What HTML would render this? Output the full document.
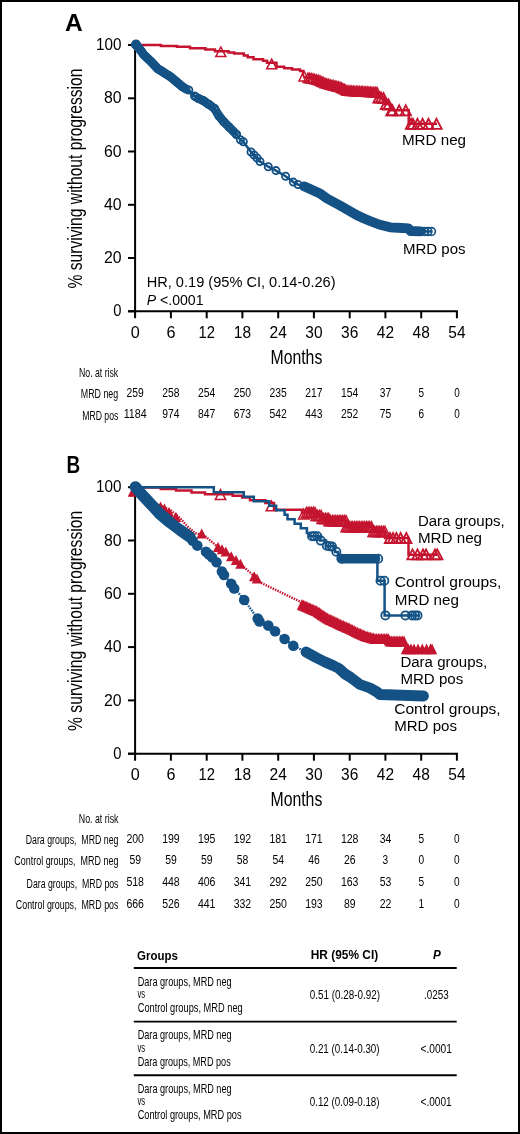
<!DOCTYPE html>
<html><head><meta charset="utf-8"><style>
html,body{margin:0;padding:0;background:#fff;}
svg{display:block;will-change:transform;}
text{font-family:"Liberation Sans", sans-serif;}
</style></head><body>
<svg width="520" height="1134" viewBox="0 0 520 1134" font-family='"Liberation Sans", sans-serif' fill="#000">
<rect x="0" y="0" width="520" height="1134" fill="#fff"/>
<text x="65.00" y="30.80" font-size="23.7" font-weight="bold" textLength="17.70" lengthAdjust="spacingAndGlyphs">A</text>
<g stroke="#000" stroke-width="2" fill="none">
<path d="M135.1,44.0 V318.3"/>
<path d="M128,311.3 H457.8"/>
<path d="M128,311.3 H135"/>
<path d="M128,258.0 H135"/>
<path d="M128,204.8 H135"/>
<path d="M128,151.5 H135"/>
<path d="M128,98.3 H135"/>
<path d="M128,45.0 H135"/>
<path d="M170.9,311.3 V318.3"/>
<path d="M206.7,311.3 V318.3"/>
<path d="M242.4,311.3 V318.3"/>
<path d="M278.2,311.3 V318.3"/>
<path d="M313.9,311.3 V318.3"/>
<path d="M349.7,311.3 V318.3"/>
<path d="M385.4,311.3 V318.3"/>
<path d="M421.2,311.3 V318.3"/>
<path d="M456.9,311.3 V318.3"/>
</g>
<text x="113.30" y="316.40" font-size="16" textLength="8.20" lengthAdjust="spacingAndGlyphs">0</text>
<text x="103.90" y="263.14" font-size="16" textLength="17.60" lengthAdjust="spacingAndGlyphs">20</text>
<text x="103.90" y="209.88" font-size="16" textLength="17.60" lengthAdjust="spacingAndGlyphs">40</text>
<text x="103.90" y="156.62" font-size="16" textLength="17.60" lengthAdjust="spacingAndGlyphs">60</text>
<text x="103.90" y="103.36" font-size="16" textLength="17.60" lengthAdjust="spacingAndGlyphs">80</text>
<text x="96.10" y="50.10" font-size="16" textLength="25.41" lengthAdjust="spacingAndGlyphs">100</text>
<text x="130.70" y="337.50" font-size="16" textLength="9.00" lengthAdjust="spacingAndGlyphs">0</text>
<text x="166.45" y="337.50" font-size="16" textLength="9.00" lengthAdjust="spacingAndGlyphs">6</text>
<text x="198.50" y="337.50" font-size="16" textLength="16.40" lengthAdjust="spacingAndGlyphs">12</text>
<text x="233.85" y="337.50" font-size="16" textLength="17.20" lengthAdjust="spacingAndGlyphs">18</text>
<text x="269.60" y="337.50" font-size="16" textLength="17.20" lengthAdjust="spacingAndGlyphs">24</text>
<text x="305.35" y="337.50" font-size="16" textLength="17.20" lengthAdjust="spacingAndGlyphs">30</text>
<text x="341.10" y="337.50" font-size="16" textLength="17.20" lengthAdjust="spacingAndGlyphs">36</text>
<text x="376.85" y="337.50" font-size="16" textLength="17.20" lengthAdjust="spacingAndGlyphs">42</text>
<text x="412.60" y="337.50" font-size="16" textLength="17.20" lengthAdjust="spacingAndGlyphs">48</text>
<text x="448.35" y="337.50" font-size="16" textLength="17.20" lengthAdjust="spacingAndGlyphs">54</text>
<text transform="translate(82.3,288.5) rotate(-90)" font-size="20" textLength="220" lengthAdjust="spacingAndGlyphs">% surviving without progression</text>
<text x="270.50" y="364.20" font-size="19.8" textLength="51.80" lengthAdjust="spacingAndGlyphs">Months</text>
<path d="M135,45.0 H161 V45.9 H177 V46.7 H190 V48.3 H205.4 V49.6 H215 V51.2 H228.5 V52.5 H234.2 V53.5 H243.8 V55.4 H247.7 V57.3 H253.5 V59.2 H263 V60.8 H267 V62.7 H276.5 V66.8 H284.2 V68.3 H292 V69.5 H300 V71 H303 V76" fill="none" stroke="#c4142f" stroke-width="2.5"/>
<path d="M303.0,77.0 L313.0,78.5 L318.5,80.0 L325.0,83.0 L332.0,85.0 L340.0,87.0 L347.0,90.5 L372.0,92.0 L377.0,92.0 L377.0,97.5 L384.0,97.5 L384.0,104.0 L390.0,104.0 L390.0,110.3 L408.7,110.3 L408.7,123.8 L437.0,123.8" fill="none" stroke="#c4142f" stroke-width="2.5"/>
<polygon points="220.8,47.0 225.8,56.6 215.8,56.6" fill="none" stroke="#c4142f" stroke-width="1.5"/><polygon points="271.7,59.2 276.7,68.8 266.7,68.8" fill="none" stroke="#c4142f" stroke-width="1.5"/><polygon points="304.0,71.0 309.0,81.0 299.0,81.0" fill="none" stroke="#c4142f" stroke-width="1.5"/><polygon points="308.0,73.1 312.8,82.5 303.2,82.5" fill="none" stroke="#c4142f" stroke-width="1.5"/><polygon points="309.7,73.3 314.5,82.7 304.9,82.7" fill="none" stroke="#c4142f" stroke-width="1.5"/><polygon points="311.3,73.6 316.1,83.0 306.5,83.0" fill="none" stroke="#c4142f" stroke-width="1.5"/><polygon points="313.0,73.8 317.8,83.2 308.2,83.2" fill="none" stroke="#c4142f" stroke-width="1.5"/><polygon points="314.8,74.3 319.6,83.7 310.0,83.7" fill="none" stroke="#c4142f" stroke-width="1.5"/><polygon points="316.7,74.8 321.5,84.2 311.9,84.2" fill="none" stroke="#c4142f" stroke-width="1.5"/><polygon points="318.5,75.3 323.3,84.7 313.7,84.7" fill="none" stroke="#c4142f" stroke-width="1.5"/><polygon points="320.1,76.0 324.9,85.5 315.3,85.5" fill="none" stroke="#c4142f" stroke-width="1.5"/><polygon points="321.8,76.8 326.6,86.2 316.9,86.2" fill="none" stroke="#c4142f" stroke-width="1.5"/><polygon points="323.4,77.5 328.2,87.0 318.6,87.0" fill="none" stroke="#c4142f" stroke-width="1.5"/><polygon points="325.0,78.3 329.8,87.7 320.2,87.7" fill="none" stroke="#c4142f" stroke-width="1.5"/><polygon points="326.8,78.8 331.6,88.2 321.9,88.2" fill="none" stroke="#c4142f" stroke-width="1.5"/><polygon points="328.5,79.3 333.3,88.7 323.7,88.7" fill="none" stroke="#c4142f" stroke-width="1.5"/><polygon points="330.2,79.8 335.1,89.2 325.4,89.2" fill="none" stroke="#c4142f" stroke-width="1.5"/><polygon points="332.0,80.3 336.8,89.7 327.2,89.7" fill="none" stroke="#c4142f" stroke-width="1.5"/><polygon points="333.6,80.7 338.4,90.1 328.8,90.1" fill="none" stroke="#c4142f" stroke-width="1.5"/><polygon points="335.2,81.1 340.0,90.5 330.4,90.5" fill="none" stroke="#c4142f" stroke-width="1.5"/><polygon points="336.8,81.5 341.6,90.9 332.0,90.9" fill="none" stroke="#c4142f" stroke-width="1.5"/><polygon points="338.4,81.9 343.2,91.3 333.6,91.3" fill="none" stroke="#c4142f" stroke-width="1.5"/><polygon points="340.0,82.3 344.8,91.7 335.2,91.7" fill="none" stroke="#c4142f" stroke-width="1.5"/><polygon points="341.4,83.0 346.2,92.4 336.6,92.4" fill="none" stroke="#c4142f" stroke-width="1.5"/><polygon points="342.8,83.7 347.6,93.1 338.0,93.1" fill="none" stroke="#c4142f" stroke-width="1.5"/><polygon points="344.2,84.4 349.0,93.8 339.4,93.8" fill="none" stroke="#c4142f" stroke-width="1.5"/><polygon points="345.6,85.1 350.4,94.5 340.8,94.5" fill="none" stroke="#c4142f" stroke-width="1.5"/><polygon points="347.0,85.8 351.8,95.2 342.2,95.2" fill="none" stroke="#c4142f" stroke-width="1.5"/><polygon points="348.6,85.9 353.4,95.3 343.8,95.3" fill="none" stroke="#c4142f" stroke-width="1.5"/><polygon points="350.1,86.0 354.9,95.4 345.3,95.4" fill="none" stroke="#c4142f" stroke-width="1.5"/><polygon points="351.7,86.1 356.5,95.5 346.9,95.5" fill="none" stroke="#c4142f" stroke-width="1.5"/><polygon points="353.2,86.2 358.1,95.6 348.4,95.6" fill="none" stroke="#c4142f" stroke-width="1.5"/><polygon points="354.8,86.3 359.6,95.7 350.0,95.7" fill="none" stroke="#c4142f" stroke-width="1.5"/><polygon points="356.4,86.4 361.2,95.8 351.6,95.8" fill="none" stroke="#c4142f" stroke-width="1.5"/><polygon points="357.9,86.5 362.7,95.9 353.1,95.9" fill="none" stroke="#c4142f" stroke-width="1.5"/><polygon points="359.5,86.5 364.3,96.0 354.7,96.0" fill="none" stroke="#c4142f" stroke-width="1.5"/><polygon points="361.1,86.6 365.9,96.0 356.3,96.0" fill="none" stroke="#c4142f" stroke-width="1.5"/><polygon points="362.6,86.7 367.4,96.1 357.8,96.1" fill="none" stroke="#c4142f" stroke-width="1.5"/><polygon points="364.2,86.8 369.0,96.2 359.4,96.2" fill="none" stroke="#c4142f" stroke-width="1.5"/><polygon points="365.8,86.9 370.6,96.3 360.9,96.3" fill="none" stroke="#c4142f" stroke-width="1.5"/><polygon points="367.3,87.0 372.1,96.4 362.5,96.4" fill="none" stroke="#c4142f" stroke-width="1.5"/><polygon points="368.9,87.1 373.7,96.5 364.1,96.5" fill="none" stroke="#c4142f" stroke-width="1.5"/><polygon points="370.4,87.2 375.2,96.6 365.6,96.6" fill="none" stroke="#c4142f" stroke-width="1.5"/><polygon points="372.0,87.3 376.8,96.7 367.2,96.7" fill="none" stroke="#c4142f" stroke-width="1.5"/><polygon points="373.7,87.3 378.5,96.7 368.9,96.7" fill="none" stroke="#c4142f" stroke-width="1.5"/><polygon points="375.3,87.3 380.1,96.7 370.5,96.7" fill="none" stroke="#c4142f" stroke-width="1.5"/><polygon points="377.0,87.3 381.8,96.7 372.2,96.7" fill="none" stroke="#c4142f" stroke-width="1.5"/><polygon points="378.5,92.5 383.7,102.5 373.3,102.5" fill="none" stroke="#c4142f" stroke-width="1.8"/><polygon points="381.0,92.5 386.2,102.5 375.8,102.5" fill="none" stroke="#c4142f" stroke-width="1.8"/><polygon points="383.5,93.0 388.7,103.0 378.3,103.0" fill="none" stroke="#c4142f" stroke-width="1.8"/><polygon points="386.0,99.0 391.2,109.0 380.8,109.0" fill="none" stroke="#c4142f" stroke-width="1.8"/><polygon points="388.5,99.5 393.7,109.5 383.3,109.5" fill="none" stroke="#c4142f" stroke-width="1.8"/><polygon points="391.5,105.3 396.7,115.3 386.3,115.3" fill="none" stroke="#c4142f" stroke-width="1.8"/><polygon points="392.5,105.3 397.7,115.3 387.3,115.3" fill="none" stroke="#c4142f" stroke-width="1.8"/><polygon points="399.2,105.3 404.4,115.3 394.0,115.3" fill="none" stroke="#c4142f" stroke-width="1.8"/><polygon points="405.8,105.3 411.0,115.3 400.6,115.3" fill="none" stroke="#c4142f" stroke-width="1.8"/><polygon points="411.0,118.8 416.2,128.8 405.8,128.8" fill="none" stroke="#c4142f" stroke-width="1.8"/><polygon points="413.0,118.8 418.2,128.8 407.8,128.8" fill="none" stroke="#c4142f" stroke-width="1.8"/><polygon points="417.5,118.8 422.7,128.8 412.3,128.8" fill="none" stroke="#c4142f" stroke-width="1.8"/><polygon points="422.6,118.8 427.8,128.8 417.4,128.8" fill="none" stroke="#c4142f" stroke-width="1.8"/><polygon points="428.5,118.8 433.7,128.8 423.3,128.8" fill="none" stroke="#c4142f" stroke-width="1.8"/><polygon points="436.5,118.8 441.7,128.8 431.3,128.8" fill="none" stroke="#c4142f" stroke-width="1.8"/>
<path d="M136.0,44.6 L140.0,49.5 L144.0,55.0 L151.0,61.5 L157.5,68.5 L170.4,76.7 L182.5,86.8 L186.0,89.0 L188.8,90.0 L194.5,96.0 L198.5,98.5 L203.0,100.5 L209.0,104.5 L214.5,108.5 L219.0,116.0 L224.0,122.0 L229.0,127.0 L236.5,134.5 L240.4,139.8 L243.3,141.7 L251.0,152.0 L254.0,155.0 L257.0,158.0 L260.0,161.5 L268.3,166.7 L276.0,170.6 L285.6,176.3 L293.3,182.1 L298.0,184.5 L304.0,186.3 L320.0,193.5 L327.0,198.5 L340.0,205.5 L356.5,215.0 L364.0,218.5 L370.0,221.0 L379.0,224.5 L390.0,227.3 L402.0,228.0 L408.5,228.3 L410.5,231.0 L421.0,231.3 L431.5,231.5" fill="none" stroke="#145285" stroke-width="2.5"/>
<path d="M136.0,44.6 L140.0,49.5 L144.0,55.0 L151.0,61.5 L157.5,68.5 L170.4,76.7 L182.5,86.8" fill="none" stroke="#145285" stroke-width="8.8" stroke-linecap="round" stroke-linejoin="round"/>
<path d="M304.0,186.3 L320.0,193.5 L327.0,198.5 L340.0,205.5 L356.5,215.0 L364.0,218.5 L370.0,221.0 L379.0,224.5 L390.0,227.3 L402.0,228.0 L408.5,228.3 L410.5,231.0 L421.0,231.3" fill="none" stroke="#145285" stroke-width="9.8" stroke-linecap="round" stroke-linejoin="round"/>
<path d="M186.0,89.0 L194.5,96.0 L198.5,98.5 L203.0,100.5 L209.0,104.5 L214.5,108.5 L219.0,116.0 L224.0,122.0 L229.0,127.0 L236.5,134.5" fill="none" stroke="#145285" stroke-width="3" stroke-linejoin="round"/>
<circle cx="136.0" cy="44.6" r="4.2" fill="none" stroke="#145285" stroke-width="1.7"/><circle cx="136.0" cy="44.6" r="3.6" fill="none" stroke="#145285" stroke-width="1.8"/><circle cx="137.3" cy="46.2" r="3.6" fill="none" stroke="#145285" stroke-width="1.8"/><circle cx="138.7" cy="47.9" r="3.6" fill="none" stroke="#145285" stroke-width="1.8"/><circle cx="140.0" cy="49.5" r="3.6" fill="none" stroke="#145285" stroke-width="1.8"/><circle cx="141.3" cy="51.3" r="3.6" fill="none" stroke="#145285" stroke-width="1.8"/><circle cx="142.7" cy="53.2" r="3.6" fill="none" stroke="#145285" stroke-width="1.8"/><circle cx="144.0" cy="55.0" r="3.6" fill="none" stroke="#145285" stroke-width="1.8"/><circle cx="145.8" cy="56.6" r="3.6" fill="none" stroke="#145285" stroke-width="1.8"/><circle cx="147.5" cy="58.2" r="3.6" fill="none" stroke="#145285" stroke-width="1.8"/><circle cx="149.2" cy="59.9" r="3.6" fill="none" stroke="#145285" stroke-width="1.8"/><circle cx="151.0" cy="61.5" r="3.6" fill="none" stroke="#145285" stroke-width="1.8"/><circle cx="152.6" cy="63.2" r="3.6" fill="none" stroke="#145285" stroke-width="1.8"/><circle cx="154.2" cy="65.0" r="3.6" fill="none" stroke="#145285" stroke-width="1.8"/><circle cx="155.9" cy="66.8" r="3.6" fill="none" stroke="#145285" stroke-width="1.8"/><circle cx="157.5" cy="68.5" r="3.6" fill="none" stroke="#145285" stroke-width="1.8"/><circle cx="159.3" cy="69.7" r="3.6" fill="none" stroke="#145285" stroke-width="1.8"/><circle cx="161.2" cy="70.8" r="3.6" fill="none" stroke="#145285" stroke-width="1.8"/><circle cx="163.0" cy="72.0" r="3.6" fill="none" stroke="#145285" stroke-width="1.8"/><circle cx="164.9" cy="73.2" r="3.6" fill="none" stroke="#145285" stroke-width="1.8"/><circle cx="166.7" cy="74.4" r="3.6" fill="none" stroke="#145285" stroke-width="1.8"/><circle cx="168.6" cy="75.5" r="3.6" fill="none" stroke="#145285" stroke-width="1.8"/><circle cx="170.4" cy="76.7" r="3.6" fill="none" stroke="#145285" stroke-width="1.8"/><circle cx="172.1" cy="78.1" r="3.6" fill="none" stroke="#145285" stroke-width="1.8"/><circle cx="173.9" cy="79.6" r="3.6" fill="none" stroke="#145285" stroke-width="1.8"/><circle cx="175.6" cy="81.0" r="3.6" fill="none" stroke="#145285" stroke-width="1.8"/><circle cx="177.3" cy="82.5" r="3.6" fill="none" stroke="#145285" stroke-width="1.8"/><circle cx="179.0" cy="83.9" r="3.6" fill="none" stroke="#145285" stroke-width="1.8"/><circle cx="180.8" cy="85.4" r="3.6" fill="none" stroke="#145285" stroke-width="1.8"/><circle cx="182.5" cy="86.8" r="3.6" fill="none" stroke="#145285" stroke-width="1.8"/><circle cx="184.2" cy="87.9" r="3.6" fill="none" stroke="#145285" stroke-width="1.8"/><circle cx="186.0" cy="89.0" r="3.6" fill="none" stroke="#145285" stroke-width="1.8"/><circle cx="188.8" cy="90.0" r="3.6" fill="none" stroke="#145285" stroke-width="1.8"/><circle cx="194.5" cy="96.0" r="3.6" fill="none" stroke="#145285" stroke-width="1.8"/><circle cx="198.5" cy="98.5" r="3.6" fill="none" stroke="#145285" stroke-width="1.8"/><circle cx="203.0" cy="100.5" r="3.6" fill="none" stroke="#145285" stroke-width="1.8"/><circle cx="209.0" cy="104.5" r="3.6" fill="none" stroke="#145285" stroke-width="1.8"/><circle cx="214.5" cy="108.5" r="3.6" fill="none" stroke="#145285" stroke-width="1.8"/><circle cx="219.0" cy="116.0" r="3.6" fill="none" stroke="#145285" stroke-width="1.8"/><circle cx="224.0" cy="122.0" r="3.6" fill="none" stroke="#145285" stroke-width="1.8"/><circle cx="229.0" cy="127.0" r="3.6" fill="none" stroke="#145285" stroke-width="1.8"/><circle cx="236.5" cy="134.5" r="3.6" fill="none" stroke="#145285" stroke-width="1.8"/><circle cx="240.4" cy="139.8" r="3.6" fill="none" stroke="#145285" stroke-width="1.8"/><circle cx="243.3" cy="141.7" r="3.6" fill="none" stroke="#145285" stroke-width="1.8"/><circle cx="251.0" cy="152.0" r="3.6" fill="none" stroke="#145285" stroke-width="1.8"/><circle cx="254.0" cy="155.0" r="3.6" fill="none" stroke="#145285" stroke-width="1.8"/><circle cx="257.0" cy="158.0" r="3.6" fill="none" stroke="#145285" stroke-width="1.8"/><circle cx="260.0" cy="161.5" r="3.6" fill="none" stroke="#145285" stroke-width="1.8"/><circle cx="268.3" cy="166.7" r="3.6" fill="none" stroke="#145285" stroke-width="1.8"/><circle cx="276.0" cy="170.6" r="3.6" fill="none" stroke="#145285" stroke-width="1.8"/><circle cx="285.6" cy="176.3" r="3.6" fill="none" stroke="#145285" stroke-width="1.8"/><circle cx="293.3" cy="182.1" r="3.6" fill="none" stroke="#145285" stroke-width="1.8"/><circle cx="298.0" cy="184.5" r="3.6" fill="none" stroke="#145285" stroke-width="1.8"/><circle cx="196.0" cy="97.0" r="3.6" fill="none" stroke="#145285" stroke-width="1.8"/><circle cx="198.5" cy="98.5" r="3.6" fill="none" stroke="#145285" stroke-width="1.8"/><circle cx="200.8" cy="99.5" r="3.6" fill="none" stroke="#145285" stroke-width="1.8"/><circle cx="203.0" cy="100.5" r="3.6" fill="none" stroke="#145285" stroke-width="1.8"/><circle cx="205.0" cy="101.8" r="3.6" fill="none" stroke="#145285" stroke-width="1.8"/><circle cx="207.0" cy="103.2" r="3.6" fill="none" stroke="#145285" stroke-width="1.8"/><circle cx="209.0" cy="104.5" r="3.6" fill="none" stroke="#145285" stroke-width="1.8"/><circle cx="211.8" cy="106.5" r="3.6" fill="none" stroke="#145285" stroke-width="1.8"/><circle cx="214.5" cy="108.5" r="3.6" fill="none" stroke="#145285" stroke-width="1.8"/><circle cx="216.0" cy="111.0" r="3.6" fill="none" stroke="#145285" stroke-width="1.8"/><circle cx="217.5" cy="113.5" r="3.6" fill="none" stroke="#145285" stroke-width="1.8"/><circle cx="219.0" cy="116.0" r="3.6" fill="none" stroke="#145285" stroke-width="1.8"/><circle cx="220.7" cy="118.0" r="3.6" fill="none" stroke="#145285" stroke-width="1.8"/><circle cx="222.3" cy="120.0" r="3.6" fill="none" stroke="#145285" stroke-width="1.8"/><circle cx="224.0" cy="122.0" r="3.6" fill="none" stroke="#145285" stroke-width="1.8"/><circle cx="226.5" cy="124.5" r="3.6" fill="none" stroke="#145285" stroke-width="1.8"/><circle cx="229.0" cy="127.0" r="3.6" fill="none" stroke="#145285" stroke-width="1.8"/><circle cx="230.9" cy="128.9" r="3.6" fill="none" stroke="#145285" stroke-width="1.8"/><circle cx="232.8" cy="130.8" r="3.6" fill="none" stroke="#145285" stroke-width="1.8"/><circle cx="234.6" cy="132.6" r="3.6" fill="none" stroke="#145285" stroke-width="1.8"/><circle cx="236.5" cy="134.5" r="3.6" fill="none" stroke="#145285" stroke-width="1.8"/><circle cx="424.5" cy="231.5" r="3.9" fill="none" stroke="#145285" stroke-width="1.6"/><circle cx="428.0" cy="231.5" r="3.9" fill="none" stroke="#145285" stroke-width="1.6"/><circle cx="431.5" cy="231.5" r="3.9" fill="none" stroke="#145285" stroke-width="1.6"/>
<text x="146.70" y="286.70" font-size="14" textLength="188.90" lengthAdjust="spacingAndGlyphs">HR, 0.19 (95% CI, 0.14-0.26)</text>
<text x="146.70" y="305.00" font-size="14" textLength="56.80" lengthAdjust="spacingAndGlyphs"><tspan font-style="italic">P</tspan> &lt;.0001</text>
<text x="401.90" y="145.40" font-size="14" textLength="64.19" lengthAdjust="spacingAndGlyphs">MRD neg</text>
<text x="403.00" y="253.80" font-size="14" textLength="62.59" lengthAdjust="spacingAndGlyphs">MRD pos</text>
<text x="79.00" y="376.70" font-size="12" textLength="39.18" lengthAdjust="spacingAndGlyphs">No. at risk</text>
<text x="80.80" y="398.20" font-size="12" textLength="37.40" lengthAdjust="spacingAndGlyphs">MRD neg</text>
<text x="82.20" y="419.70" font-size="12" textLength="36.10" lengthAdjust="spacingAndGlyphs">MRD pos</text>
<text x="126.57" y="396.60" font-size="12.4" textLength="17.25" lengthAdjust="spacingAndGlyphs">259</text>
<text x="162.32" y="396.60" font-size="12.4" textLength="17.25" lengthAdjust="spacingAndGlyphs">258</text>
<text x="198.07" y="396.60" font-size="12.4" textLength="17.25" lengthAdjust="spacingAndGlyphs">254</text>
<text x="233.82" y="396.60" font-size="12.4" textLength="17.25" lengthAdjust="spacingAndGlyphs">250</text>
<text x="269.57" y="396.60" font-size="12.4" textLength="17.25" lengthAdjust="spacingAndGlyphs">235</text>
<text x="305.32" y="396.60" font-size="12.4" textLength="17.25" lengthAdjust="spacingAndGlyphs">217</text>
<text x="341.07" y="396.60" font-size="12.4" textLength="17.25" lengthAdjust="spacingAndGlyphs">154</text>
<text x="379.75" y="396.60" font-size="12.4" textLength="11.40" lengthAdjust="spacingAndGlyphs">37</text>
<text x="418.43" y="396.60" font-size="12.4" textLength="5.55" lengthAdjust="spacingAndGlyphs">5</text>
<text x="454.18" y="396.60" font-size="12.4" textLength="5.55" lengthAdjust="spacingAndGlyphs">0</text>
<text x="123.65" y="418.30" font-size="12.4" textLength="23.10" lengthAdjust="spacingAndGlyphs">1184</text>
<text x="162.32" y="418.30" font-size="12.4" textLength="17.25" lengthAdjust="spacingAndGlyphs">974</text>
<text x="198.07" y="418.30" font-size="12.4" textLength="17.25" lengthAdjust="spacingAndGlyphs">847</text>
<text x="233.82" y="418.30" font-size="12.4" textLength="17.25" lengthAdjust="spacingAndGlyphs">673</text>
<text x="269.57" y="418.30" font-size="12.4" textLength="17.25" lengthAdjust="spacingAndGlyphs">542</text>
<text x="305.32" y="418.30" font-size="12.4" textLength="17.25" lengthAdjust="spacingAndGlyphs">443</text>
<text x="341.07" y="418.30" font-size="12.4" textLength="17.25" lengthAdjust="spacingAndGlyphs">252</text>
<text x="379.75" y="418.30" font-size="12.4" textLength="11.40" lengthAdjust="spacingAndGlyphs">75</text>
<text x="418.43" y="418.30" font-size="12.4" textLength="5.55" lengthAdjust="spacingAndGlyphs">6</text>
<text x="454.18" y="418.30" font-size="12.4" textLength="5.55" lengthAdjust="spacingAndGlyphs">0</text>
<text x="66.50" y="473.10" font-size="23.7" font-weight="bold" textLength="13.70" lengthAdjust="spacingAndGlyphs">B</text>
<g stroke="#000" stroke-width="2" fill="none">
<path d="M135.1,486.2 V760.7"/>
<path d="M128,753.7 H457.8"/>
<path d="M128,753.7 H135"/>
<path d="M128,700.4 H135"/>
<path d="M128,647.1 H135"/>
<path d="M128,593.8 H135"/>
<path d="M128,540.5 H135"/>
<path d="M128,487.2 H135"/>
<path d="M170.9,753.7 V760.7"/>
<path d="M206.7,753.7 V760.7"/>
<path d="M242.4,753.7 V760.7"/>
<path d="M278.2,753.7 V760.7"/>
<path d="M313.9,753.7 V760.7"/>
<path d="M349.7,753.7 V760.7"/>
<path d="M385.4,753.7 V760.7"/>
<path d="M421.2,753.7 V760.7"/>
<path d="M456.9,753.7 V760.7"/>
</g>
<text x="113.30" y="758.80" font-size="16" textLength="8.20" lengthAdjust="spacingAndGlyphs">0</text>
<text x="103.90" y="705.50" font-size="16" textLength="17.60" lengthAdjust="spacingAndGlyphs">20</text>
<text x="103.90" y="652.20" font-size="16" textLength="17.60" lengthAdjust="spacingAndGlyphs">40</text>
<text x="103.90" y="598.90" font-size="16" textLength="17.60" lengthAdjust="spacingAndGlyphs">60</text>
<text x="103.90" y="545.60" font-size="16" textLength="17.60" lengthAdjust="spacingAndGlyphs">80</text>
<text x="96.10" y="492.30" font-size="16" textLength="25.41" lengthAdjust="spacingAndGlyphs">100</text>
<text x="130.70" y="779.90" font-size="16" textLength="9.00" lengthAdjust="spacingAndGlyphs">0</text>
<text x="166.45" y="779.90" font-size="16" textLength="9.00" lengthAdjust="spacingAndGlyphs">6</text>
<text x="198.50" y="779.90" font-size="16" textLength="16.40" lengthAdjust="spacingAndGlyphs">12</text>
<text x="233.85" y="779.90" font-size="16" textLength="17.20" lengthAdjust="spacingAndGlyphs">18</text>
<text x="269.60" y="779.90" font-size="16" textLength="17.20" lengthAdjust="spacingAndGlyphs">24</text>
<text x="305.35" y="779.90" font-size="16" textLength="17.20" lengthAdjust="spacingAndGlyphs">30</text>
<text x="341.10" y="779.90" font-size="16" textLength="17.20" lengthAdjust="spacingAndGlyphs">36</text>
<text x="376.85" y="779.90" font-size="16" textLength="17.20" lengthAdjust="spacingAndGlyphs">42</text>
<text x="412.60" y="779.90" font-size="16" textLength="17.20" lengthAdjust="spacingAndGlyphs">48</text>
<text x="448.35" y="779.90" font-size="16" textLength="17.20" lengthAdjust="spacingAndGlyphs">54</text>
<text transform="translate(82.3,730.9) rotate(-90)" font-size="20" textLength="220" lengthAdjust="spacingAndGlyphs">% surviving without progression</text>
<text x="270.50" y="806.20" font-size="19.8" textLength="51.80" lengthAdjust="spacingAndGlyphs">Months</text>
<path d="M135.0,487.6 L160.8,487.6 L160.8,489.0 L176.0,489.0 L176.0,490.6 L191.5,490.6 L191.5,492.6 L205.0,492.6 L205.0,494.2 L232.7,494.2 L232.7,495.8 L242.3,495.8 L242.3,497.5 L250.0,497.5 L250.0,500.2 L265.4,500.2 L265.4,503.0 L274.0,503.0 L274.0,509.8 L302.0,509.8 L302,512.5 L302.0,512.5 L316.0,512.5 L316.0,515.5 L322.0,515.5 L322.0,518.5 L329.0,518.5 L329.0,520.7 L346.0,520.7 L346.0,526.8 L373.0,526.8 L373.0,531.4 L385.0,531.4 L385.0,538.0 L408.5,538.0 L408.5,554.7 L437.0,554.7" fill="none" stroke="#c4142f" stroke-width="2.5"/>
<polygon points="220.5,489.6 225.7,499.6 215.3,499.6" fill="none" stroke="#c4142f" stroke-width="1.5"/><polygon points="271.4,500.8 276.6,510.8 266.2,510.8" fill="none" stroke="#c4142f" stroke-width="1.5"/><polygon points="303.8,509.0 309.0,519.0 298.6,519.0" fill="none" stroke="#c4142f" stroke-width="1.5"/><polygon points="306.5,507.5 311.5,517.5 301.5,517.5" fill="none" stroke="#c4142f" stroke-width="1.5"/><polygon points="308.2,507.5 313.2,517.5 303.2,517.5" fill="none" stroke="#c4142f" stroke-width="1.5"/><polygon points="309.9,507.5 314.9,517.5 304.9,517.5" fill="none" stroke="#c4142f" stroke-width="1.5"/><polygon points="311.6,507.5 316.6,517.5 306.6,517.5" fill="none" stroke="#c4142f" stroke-width="1.5"/><polygon points="313.3,507.5 318.3,517.5 308.3,517.5" fill="none" stroke="#c4142f" stroke-width="1.5"/><polygon points="315.0,507.5 320.0,517.5 310.0,517.5" fill="none" stroke="#c4142f" stroke-width="1.5"/><polygon points="316.0,510.5 321.0,520.5 311.0,520.5" fill="none" stroke="#c4142f" stroke-width="1.5"/><polygon points="317.7,510.5 322.7,520.5 312.7,520.5" fill="none" stroke="#c4142f" stroke-width="1.5"/><polygon points="319.4,510.5 324.4,520.5 314.4,520.5" fill="none" stroke="#c4142f" stroke-width="1.5"/><polygon points="321.1,510.5 326.1,520.5 316.1,520.5" fill="none" stroke="#c4142f" stroke-width="1.5"/><polygon points="322.0,513.5 327.0,523.5 317.0,523.5" fill="none" stroke="#c4142f" stroke-width="1.5"/><polygon points="323.7,513.5 328.7,523.5 318.7,523.5" fill="none" stroke="#c4142f" stroke-width="1.5"/><polygon points="325.4,513.5 330.4,523.5 320.4,523.5" fill="none" stroke="#c4142f" stroke-width="1.5"/><polygon points="327.1,513.5 332.1,523.5 322.1,523.5" fill="none" stroke="#c4142f" stroke-width="1.5"/><polygon points="328.8,513.5 333.8,523.5 323.8,523.5" fill="none" stroke="#c4142f" stroke-width="1.5"/><polygon points="329.0,515.7 334.0,525.7 324.0,525.7" fill="none" stroke="#c4142f" stroke-width="1.5"/><polygon points="330.7,515.7 335.7,525.7 325.7,525.7" fill="none" stroke="#c4142f" stroke-width="1.5"/><polygon points="332.4,515.7 337.4,525.7 327.4,525.7" fill="none" stroke="#c4142f" stroke-width="1.5"/><polygon points="334.1,515.7 339.1,525.7 329.1,525.7" fill="none" stroke="#c4142f" stroke-width="1.5"/><polygon points="335.8,515.7 340.8,525.7 330.8,525.7" fill="none" stroke="#c4142f" stroke-width="1.5"/><polygon points="337.5,515.7 342.5,525.7 332.5,525.7" fill="none" stroke="#c4142f" stroke-width="1.5"/><polygon points="339.2,515.7 344.2,525.7 334.2,525.7" fill="none" stroke="#c4142f" stroke-width="1.5"/><polygon points="340.9,515.7 345.9,525.7 335.9,525.7" fill="none" stroke="#c4142f" stroke-width="1.5"/><polygon points="342.6,515.7 347.6,525.7 337.6,525.7" fill="none" stroke="#c4142f" stroke-width="1.5"/><polygon points="344.3,515.7 349.3,525.7 339.3,525.7" fill="none" stroke="#c4142f" stroke-width="1.5"/><polygon points="346.0,515.7 351.0,525.7 341.0,525.7" fill="none" stroke="#c4142f" stroke-width="1.5"/><polygon points="346.0,521.8 351.0,531.8 341.0,531.8" fill="none" stroke="#c4142f" stroke-width="1.5"/><polygon points="347.7,521.8 352.7,531.8 342.7,531.8" fill="none" stroke="#c4142f" stroke-width="1.5"/><polygon points="349.4,521.8 354.4,531.8 344.4,531.8" fill="none" stroke="#c4142f" stroke-width="1.5"/><polygon points="351.1,521.8 356.1,531.8 346.1,531.8" fill="none" stroke="#c4142f" stroke-width="1.5"/><polygon points="352.8,521.8 357.8,531.8 347.8,531.8" fill="none" stroke="#c4142f" stroke-width="1.5"/><polygon points="354.5,521.8 359.5,531.8 349.5,531.8" fill="none" stroke="#c4142f" stroke-width="1.5"/><polygon points="356.2,521.8 361.2,531.8 351.2,531.8" fill="none" stroke="#c4142f" stroke-width="1.5"/><polygon points="357.9,521.8 362.9,531.8 352.9,531.8" fill="none" stroke="#c4142f" stroke-width="1.5"/><polygon points="359.6,521.8 364.6,531.8 354.6,531.8" fill="none" stroke="#c4142f" stroke-width="1.5"/><polygon points="361.3,521.8 366.3,531.8 356.3,531.8" fill="none" stroke="#c4142f" stroke-width="1.5"/><polygon points="363.0,521.8 368.0,531.8 358.0,531.8" fill="none" stroke="#c4142f" stroke-width="1.5"/><polygon points="364.7,521.8 369.7,531.8 359.7,531.8" fill="none" stroke="#c4142f" stroke-width="1.5"/><polygon points="366.4,521.8 371.4,531.8 361.4,531.8" fill="none" stroke="#c4142f" stroke-width="1.5"/><polygon points="368.1,521.8 373.1,531.8 363.1,531.8" fill="none" stroke="#c4142f" stroke-width="1.5"/><polygon points="369.8,521.8 374.8,531.8 364.8,531.8" fill="none" stroke="#c4142f" stroke-width="1.5"/><polygon points="371.5,521.8 376.5,531.8 366.5,531.8" fill="none" stroke="#c4142f" stroke-width="1.5"/><polygon points="373.0,526.4 378.0,536.4 368.0,536.4" fill="none" stroke="#c4142f" stroke-width="1.5"/><polygon points="374.7,526.4 379.7,536.4 369.7,536.4" fill="none" stroke="#c4142f" stroke-width="1.5"/><polygon points="376.4,526.4 381.4,536.4 371.4,536.4" fill="none" stroke="#c4142f" stroke-width="1.5"/><polygon points="378.1,526.4 383.1,536.4 373.1,536.4" fill="none" stroke="#c4142f" stroke-width="1.5"/><polygon points="379.8,526.4 384.8,536.4 374.8,536.4" fill="none" stroke="#c4142f" stroke-width="1.5"/><polygon points="381.5,526.4 386.5,536.4 376.5,536.4" fill="none" stroke="#c4142f" stroke-width="1.5"/><polygon points="383.2,526.4 388.2,536.4 378.2,536.4" fill="none" stroke="#c4142f" stroke-width="1.5"/><polygon points="384.9,526.4 389.9,536.4 379.9,536.4" fill="none" stroke="#c4142f" stroke-width="1.5"/><polygon points="390.0,533.0 395.2,543.0 384.8,543.0" fill="none" stroke="#c4142f" stroke-width="1.8"/><polygon points="393.0,533.0 398.2,543.0 387.8,543.0" fill="none" stroke="#c4142f" stroke-width="1.8"/><polygon points="396.3,533.0 401.5,543.0 391.1,543.0" fill="none" stroke="#c4142f" stroke-width="1.8"/><polygon points="400.6,533.0 405.8,543.0 395.4,543.0" fill="none" stroke="#c4142f" stroke-width="1.8"/><polygon points="406.3,533.0 411.5,543.0 401.1,543.0" fill="none" stroke="#c4142f" stroke-width="1.8"/><polygon points="412.5,549.4 417.7,559.4 407.3,559.4" fill="none" stroke="#c4142f" stroke-width="1.8"/><polygon points="417.5,549.4 422.7,559.4 412.3,559.4" fill="none" stroke="#c4142f" stroke-width="1.8"/><polygon points="423.0,549.4 428.2,559.4 417.8,559.4" fill="none" stroke="#c4142f" stroke-width="1.8"/><polygon points="426.0,549.4 431.2,559.4 420.8,559.4" fill="none" stroke="#c4142f" stroke-width="1.8"/><polygon points="435.0,549.4 440.2,559.4 429.8,559.4" fill="none" stroke="#c4142f" stroke-width="1.8"/><polygon points="437.3,549.4 442.5,559.4 432.1,559.4" fill="none" stroke="#c4142f" stroke-width="1.8"/>
<path d="M135.0,487.3 L213.8,487.3 L213.8,492.2 L243.8,492.2 L243.8,496.8 L253.8,496.8 L253.8,501.3 L269.2,501.3 L269.2,505.8 L276.2,505.8 L276.2,510.3 L284.6,510.3 L284.6,514.8 L287.5,514.8 L287.5,519.3 L294.6,519.3 L294.6,523.8 L300.8,523.8 L300.8,528.3 L306.9,528.3 L306.9,533.0 L309.0,533.0 L309.0,536.2 L320.0,536.2 L320.0,540.6 L326.0,540.6 L326.0,546.2 L335.0,546.2 L335.0,552.0 L338.0,552.0 L338.0,558.7 L377.4,558.7 L377.4,580.8 L384.6,580.8 L384.6,615.4 L420.0,615.4" fill="none" stroke="#145285" stroke-width="2.5"/>
<path d="M342,558.7 H375.5" fill="none" stroke="#145285" stroke-width="9.6" stroke-linecap="round"/>
<circle cx="312.1" cy="536.2" r="4.1" fill="none" stroke="#145285" stroke-width="1.8"/><circle cx="314.5" cy="536.2" r="4.1" fill="none" stroke="#145285" stroke-width="1.8"/><circle cx="317.3" cy="536.2" r="4.1" fill="none" stroke="#145285" stroke-width="1.8"/><circle cx="320.8" cy="540.6" r="4.1" fill="none" stroke="#145285" stroke-width="1.8"/><circle cx="326.8" cy="545.8" r="4.1" fill="none" stroke="#145285" stroke-width="1.8"/><circle cx="329.5" cy="546.2" r="4.1" fill="none" stroke="#145285" stroke-width="1.8"/><circle cx="332.0" cy="546.6" r="4.1" fill="none" stroke="#145285" stroke-width="1.8"/><circle cx="336.3" cy="551.8" r="4.1" fill="none" stroke="#145285" stroke-width="1.8"/><circle cx="341.5" cy="558.7" r="4.1" fill="none" stroke="#145285" stroke-width="1.8"/><circle cx="378.2" cy="558.7" r="4.1" fill="none" stroke="#145285" stroke-width="1.8"/><circle cx="380.5" cy="580.8" r="4.1" fill="none" stroke="#145285" stroke-width="1.8"/><circle cx="384.3" cy="580.8" r="4.1" fill="none" stroke="#145285" stroke-width="1.8"/><circle cx="385.4" cy="615.4" r="4.1" fill="none" stroke="#145285" stroke-width="1.8"/><circle cx="405.4" cy="615.4" r="4.1" fill="none" stroke="#145285" stroke-width="1.8"/><circle cx="412.0" cy="615.4" r="4.1" fill="none" stroke="#145285" stroke-width="1.8"/><circle cx="415.0" cy="615.4" r="4.1" fill="none" stroke="#145285" stroke-width="1.8"/><circle cx="417.5" cy="615.4" r="4.1" fill="none" stroke="#145285" stroke-width="1.8"/>
<path d="M135.0,489.0 L145.0,497.0 L155.0,503.0 L163.0,507.0 L171.0,510.5 L180.0,518.0 L187.0,526.0 L195.0,533.0 L205.0,536.0 L212.0,542.0 L218.0,547.0 L231.0,556.0 L240.0,563.8 L254.0,576.0 L260.0,582.3 L280.0,592.0 L300.0,601.5 L302.0,604.6" fill="none" stroke="#c4142f" stroke-width="2.4" stroke-dasharray="1.5 1.1"/>
<polygon points="131.5,489.2 135.3,496.8 127.7,496.8" fill="#c4142f"/><polygon points="135.5,486.5 140.7,496.5 130.3,496.5" fill="#c4142f"/><polygon points="160.5,501.5 165.7,511.5 155.3,511.5" fill="#c4142f"/><polygon points="164.4,503.5 169.6,513.5 159.2,513.5" fill="#c4142f"/><polygon points="169.0,507.0 174.2,517.0 163.8,517.0" fill="#c4142f"/><polygon points="176.0,512.0 181.2,522.0 170.8,522.0" fill="#c4142f"/><polygon points="201.7,528.5 206.9,538.5 196.5,538.5" fill="#c4142f"/><polygon points="218.1,541.9 223.3,551.9 212.9,551.9" fill="#c4142f"/><polygon points="222.0,544.2 227.2,554.2 216.8,554.2" fill="#c4142f"/><polygon points="225.8,546.5 231.0,556.5 220.6,556.5" fill="#c4142f"/><polygon points="231.2,551.2 236.4,561.2 226.0,561.2" fill="#c4142f"/><polygon points="236.0,555.0 241.2,565.0 230.8,565.0" fill="#c4142f"/><polygon points="240.4,558.8 245.6,568.8 235.2,568.8" fill="#c4142f"/><polygon points="254.2,571.2 259.4,581.2 249.0,581.2" fill="#c4142f"/><polygon points="257.0,573.5 262.2,583.5 251.8,583.5" fill="#c4142f"/><polygon points="302.0,599.1 307.2,610.1 296.8,610.1" fill="#c4142f"/><polygon points="303.4,599.7 308.6,610.7 298.2,610.7" fill="#c4142f"/><polygon points="304.9,600.3 310.1,611.3 299.7,611.3" fill="#c4142f"/><polygon points="306.4,601.0 311.6,612.0 301.2,612.0" fill="#c4142f"/><polygon points="307.8,601.6 313.0,612.6 302.6,612.6" fill="#c4142f"/><polygon points="309.2,602.2 314.4,613.2 304.1,613.2" fill="#c4142f"/><polygon points="310.7,602.8 315.9,613.8 305.5,613.8" fill="#c4142f"/><polygon points="312.1,603.4 317.3,614.4 306.9,614.4" fill="#c4142f"/><polygon points="313.6,604.1 318.8,615.1 308.4,615.1" fill="#c4142f"/><polygon points="315.1,604.7 320.2,615.7 309.9,615.7" fill="#c4142f"/><polygon points="316.5,605.3 321.7,616.3 311.3,616.3" fill="#c4142f"/><polygon points="317.9,606.2 323.1,617.2 312.7,617.2" fill="#c4142f"/><polygon points="319.2,607.1 324.4,618.1 314.0,618.1" fill="#c4142f"/><polygon points="320.6,608.0 325.8,619.0 315.4,619.0" fill="#c4142f"/><polygon points="321.9,608.9 327.1,619.9 316.7,619.9" fill="#c4142f"/><polygon points="323.2,609.8 328.4,620.8 318.1,620.8" fill="#c4142f"/><polygon points="324.6,610.7 329.8,621.7 319.4,621.7" fill="#c4142f"/><polygon points="325.9,611.6 331.1,622.6 320.8,622.6" fill="#c4142f"/><polygon points="327.3,612.5 332.5,623.5 322.1,623.5" fill="#c4142f"/><polygon points="328.8,613.2 334.0,624.2 323.6,624.2" fill="#c4142f"/><polygon points="330.2,613.9 335.4,624.9 325.0,624.9" fill="#c4142f"/><polygon points="331.7,614.6 336.9,625.6 326.5,625.6" fill="#c4142f"/><polygon points="333.1,615.3 338.3,626.3 327.9,626.3" fill="#c4142f"/><polygon points="334.6,615.9 339.8,626.9 329.4,626.9" fill="#c4142f"/><polygon points="336.0,616.6 341.2,627.6 330.8,627.6" fill="#c4142f"/><polygon points="337.5,617.3 342.7,628.3 332.3,628.3" fill="#c4142f"/><polygon points="338.9,618.0 344.1,629.0 333.7,629.0" fill="#c4142f"/><polygon points="340.4,618.7 345.6,629.7 335.2,629.7" fill="#c4142f"/><polygon points="341.9,619.4 347.1,630.4 336.7,630.4" fill="#c4142f"/><polygon points="343.4,620.1 348.6,631.1 338.2,631.1" fill="#c4142f"/><polygon points="344.9,620.8 350.1,631.8 339.7,631.8" fill="#c4142f"/><polygon points="346.5,621.4 351.7,632.4 341.3,632.4" fill="#c4142f"/><polygon points="348.0,622.1 353.2,633.1 342.8,633.1" fill="#c4142f"/><polygon points="349.5,622.8 354.7,633.8 344.3,633.8" fill="#c4142f"/><polygon points="351.0,623.5 356.2,634.5 345.8,634.5" fill="#c4142f"/><polygon points="352.6,624.3 357.8,635.3 347.4,635.3" fill="#c4142f"/><polygon points="354.2,625.1 359.4,636.1 349.0,636.1" fill="#c4142f"/><polygon points="355.8,625.9 361.0,636.9 350.6,636.9" fill="#c4142f"/><polygon points="357.4,626.7 362.6,637.7 352.2,637.7" fill="#c4142f"/><polygon points="359.0,627.5 364.2,638.5 353.8,638.5" fill="#c4142f"/><polygon points="360.4,628.1 365.6,639.1 355.2,639.1" fill="#c4142f"/><polygon points="361.8,628.7 367.0,639.7 356.6,639.7" fill="#c4142f"/><polygon points="363.2,629.3 368.4,640.3 358.0,640.3" fill="#c4142f"/><polygon points="364.6,629.9 369.8,640.9 359.4,640.9" fill="#c4142f"/><polygon points="366.0,630.5 371.2,641.5 360.8,641.5" fill="#c4142f"/><polygon points="367.5,630.9 372.7,641.9 362.3,641.9" fill="#c4142f"/><polygon points="369.0,631.3 374.2,642.3 363.8,642.3" fill="#c4142f"/><polygon points="370.5,631.8 375.7,642.8 365.3,642.8" fill="#c4142f"/><polygon points="372.0,632.2 377.2,643.2 366.8,643.2" fill="#c4142f"/><polygon points="373.5,632.6 378.7,643.6 368.3,643.6" fill="#c4142f"/><polygon points="375.0,633.0 380.2,644.0 369.8,644.0" fill="#c4142f"/><polygon points="376.6,633.0 381.8,644.0 371.4,644.0" fill="#c4142f"/><polygon points="378.2,633.0 383.4,644.0 373.1,644.0" fill="#c4142f"/><polygon points="379.9,633.0 385.1,644.0 374.7,644.0" fill="#c4142f"/><polygon points="381.5,633.0 386.7,644.0 376.3,644.0" fill="#c4142f"/><polygon points="383.1,633.0 388.3,644.0 377.9,644.0" fill="#c4142f"/><polygon points="384.8,633.0 389.9,644.0 379.6,644.0" fill="#c4142f"/><polygon points="386.4,633.0 391.6,644.0 381.2,644.0" fill="#c4142f"/><polygon points="388.0,633.0 393.2,644.0 382.8,644.0" fill="#c4142f"/><polygon points="389.0,634.2 394.2,645.2 383.8,645.2" fill="#c4142f"/><polygon points="390.0,635.5 395.2,646.5 384.8,646.5" fill="#c4142f"/><polygon points="391.6,635.5 396.8,646.5 386.4,646.5" fill="#c4142f"/><polygon points="393.1,635.5 398.3,646.5 387.9,646.5" fill="#c4142f"/><polygon points="394.7,635.5 399.9,646.5 389.5,646.5" fill="#c4142f"/><polygon points="396.2,635.5 401.4,646.5 391.0,646.5" fill="#c4142f"/><polygon points="397.8,635.5 403.0,646.5 392.6,646.5" fill="#c4142f"/><polygon points="399.3,635.5 404.5,646.5 394.1,646.5" fill="#c4142f"/><polygon points="400.9,635.5 406.1,646.5 395.7,646.5" fill="#c4142f"/><polygon points="402.4,635.5 407.6,646.5 397.2,646.5" fill="#c4142f"/><polygon points="404.0,635.5 409.2,646.5 398.8,646.5" fill="#c4142f"/><polygon points="406.0,643.4 411.2,654.2 400.8,654.2" fill="#c4142f"/><polygon points="408.5,643.4 413.7,654.2 403.3,654.2" fill="#c4142f"/><polygon points="411.0,643.4 416.2,654.2 405.8,654.2" fill="#c4142f"/><polygon points="414.0,643.4 419.2,654.2 408.8,654.2" fill="#c4142f"/><polygon points="418.0,643.4 423.2,654.2 412.8,654.2" fill="#c4142f"/><polygon points="422.3,643.4 427.5,654.2 417.1,654.2" fill="#c4142f"/><polygon points="426.5,643.4 431.7,654.2 421.3,654.2" fill="#c4142f"/><polygon points="430.5,643.4 435.7,654.2 425.3,654.2" fill="#c4142f"/><polygon points="432.0,643.4 437.2,654.2 426.8,654.2" fill="#c4142f"/>
<path d="M190.0,536.5 L197.3,545.6 L207.3,553.8 L216.5,562.3 L221.9,571.5 L231.2,583.8 L244.2,600.0 L258.0,619.0 L268.3,625.6 L275.0,631.3 L284.6,639.0 L293.3,645.8 L306.0,652.0" fill="none" stroke="#145285" stroke-width="2.4" stroke-dasharray="1.5 1.1"/>
<path d="M135.4,487.0 L140.0,492.5 L150.0,503.2 L160.0,514.0 L170.0,522.5 L180.0,530.0 L190.0,537.0" fill="none" stroke="#145285" stroke-width="11.5" stroke-linecap="round" stroke-linejoin="round"/>
<path d="M306.0,652.0 L316.0,657.5 L325.0,662.0 L333.0,665.5 L339.0,668.5 L345.0,674.0 L350.0,677.0 L360.0,684.5 L370.0,688.0 L377.0,692.0 L380.0,694.5 L423.5,696.0" fill="none" stroke="#145285" stroke-width="10.8" stroke-linecap="round" stroke-linejoin="round"/>
<circle cx="192.7" cy="540.8" r="5.3" fill="#145285"/><circle cx="197.3" cy="545.6" r="5.3" fill="#145285"/><circle cx="206.0" cy="551.8" r="5.3" fill="#145285"/><circle cx="209.0" cy="554.5" r="5.3" fill="#145285"/><circle cx="212.0" cy="557.2" r="5.3" fill="#145285"/><circle cx="216.5" cy="562.3" r="5.3" fill="#145285"/><circle cx="221.9" cy="571.5" r="5.3" fill="#145285"/><circle cx="224.0" cy="575.0" r="5.3" fill="#145285"/><circle cx="231.2" cy="583.8" r="5.3" fill="#145285"/><circle cx="234.2" cy="588.5" r="5.3" fill="#145285"/><circle cx="244.2" cy="600.0" r="5.3" fill="#145285"/><circle cx="257.7" cy="618.5" r="5.3" fill="#145285"/><circle cx="259.5" cy="621.5" r="5.3" fill="#145285"/><circle cx="268.3" cy="625.6" r="5.3" fill="#145285"/><circle cx="275.0" cy="631.3" r="5.3" fill="#145285"/><circle cx="284.6" cy="639.0" r="5.3" fill="#145285"/><circle cx="293.3" cy="645.8" r="5.3" fill="#145285"/>
<text x="417.90" y="525.60" font-size="14" textLength="86.90" lengthAdjust="spacingAndGlyphs">Dara groups,</text>
<text x="417.90" y="542.90" font-size="14" textLength="64.19" lengthAdjust="spacingAndGlyphs">MRD neg</text>
<text x="394.80" y="586.70" font-size="14" textLength="106.50" lengthAdjust="spacingAndGlyphs">Control groups,</text>
<text x="394.80" y="604.60" font-size="14" textLength="64.19" lengthAdjust="spacingAndGlyphs">MRD neg</text>
<text x="400.40" y="667.30" font-size="14" textLength="86.90" lengthAdjust="spacingAndGlyphs">Dara groups,</text>
<text x="400.40" y="684.20" font-size="14" textLength="62.79" lengthAdjust="spacingAndGlyphs">MRD pos</text>
<text x="394.20" y="713.90" font-size="14" textLength="106.50" lengthAdjust="spacingAndGlyphs">Control groups,</text>
<text x="394.20" y="731.20" font-size="14" textLength="62.79" lengthAdjust="spacingAndGlyphs">MRD pos</text>
<text x="78.80" y="822.70" font-size="12" textLength="39.68" lengthAdjust="spacingAndGlyphs">No. at risk</text>
<text x="25.70" y="843.50" font-size="12" textLength="92.80" lengthAdjust="spacingAndGlyphs">Dara groups, &#160;MRD neg</text>
<text x="126.42" y="843.00" font-size="12.4" textLength="17.55" lengthAdjust="spacingAndGlyphs">200</text>
<text x="162.17" y="843.00" font-size="12.4" textLength="17.55" lengthAdjust="spacingAndGlyphs">199</text>
<text x="197.92" y="843.00" font-size="12.4" textLength="17.55" lengthAdjust="spacingAndGlyphs">195</text>
<text x="233.67" y="843.00" font-size="12.4" textLength="17.55" lengthAdjust="spacingAndGlyphs">192</text>
<text x="269.43" y="843.00" font-size="12.4" textLength="17.55" lengthAdjust="spacingAndGlyphs">181</text>
<text x="305.18" y="843.00" font-size="12.4" textLength="17.55" lengthAdjust="spacingAndGlyphs">171</text>
<text x="340.93" y="843.00" font-size="12.4" textLength="17.55" lengthAdjust="spacingAndGlyphs">128</text>
<text x="379.65" y="843.00" font-size="12.4" textLength="11.60" lengthAdjust="spacingAndGlyphs">34</text>
<text x="418.38" y="843.00" font-size="12.4" textLength="5.65" lengthAdjust="spacingAndGlyphs">5</text>
<text x="454.12" y="843.00" font-size="12.4" textLength="5.65" lengthAdjust="spacingAndGlyphs">0</text>
<text x="14.20" y="865.40" font-size="12" textLength="104.30" lengthAdjust="spacingAndGlyphs">Control groups, &#160;MRD neg</text>
<text x="129.40" y="864.20" font-size="12.4" textLength="11.60" lengthAdjust="spacingAndGlyphs">59</text>
<text x="165.15" y="864.20" font-size="12.4" textLength="11.60" lengthAdjust="spacingAndGlyphs">59</text>
<text x="200.90" y="864.20" font-size="12.4" textLength="11.60" lengthAdjust="spacingAndGlyphs">59</text>
<text x="236.65" y="864.20" font-size="12.4" textLength="11.60" lengthAdjust="spacingAndGlyphs">58</text>
<text x="272.40" y="864.20" font-size="12.4" textLength="11.60" lengthAdjust="spacingAndGlyphs">54</text>
<text x="308.15" y="864.20" font-size="12.4" textLength="11.60" lengthAdjust="spacingAndGlyphs">46</text>
<text x="343.90" y="864.20" font-size="12.4" textLength="11.60" lengthAdjust="spacingAndGlyphs">26</text>
<text x="382.62" y="864.20" font-size="12.4" textLength="5.65" lengthAdjust="spacingAndGlyphs">3</text>
<text x="418.38" y="864.20" font-size="12.4" textLength="5.65" lengthAdjust="spacingAndGlyphs">0</text>
<text x="454.12" y="864.20" font-size="12.4" textLength="5.65" lengthAdjust="spacingAndGlyphs">0</text>
<text x="26.60" y="887.70" font-size="12" textLength="91.90" lengthAdjust="spacingAndGlyphs">Dara groups, &#160;MRD pos</text>
<text x="126.42" y="886.20" font-size="12.4" textLength="17.55" lengthAdjust="spacingAndGlyphs">518</text>
<text x="162.17" y="886.20" font-size="12.4" textLength="17.55" lengthAdjust="spacingAndGlyphs">448</text>
<text x="197.92" y="886.20" font-size="12.4" textLength="17.55" lengthAdjust="spacingAndGlyphs">406</text>
<text x="233.67" y="886.20" font-size="12.4" textLength="17.55" lengthAdjust="spacingAndGlyphs">341</text>
<text x="269.43" y="886.20" font-size="12.4" textLength="17.55" lengthAdjust="spacingAndGlyphs">292</text>
<text x="305.18" y="886.20" font-size="12.4" textLength="17.55" lengthAdjust="spacingAndGlyphs">250</text>
<text x="340.93" y="886.20" font-size="12.4" textLength="17.55" lengthAdjust="spacingAndGlyphs">163</text>
<text x="379.65" y="886.20" font-size="12.4" textLength="11.60" lengthAdjust="spacingAndGlyphs">53</text>
<text x="418.38" y="886.20" font-size="12.4" textLength="5.65" lengthAdjust="spacingAndGlyphs">5</text>
<text x="454.12" y="886.20" font-size="12.4" textLength="5.65" lengthAdjust="spacingAndGlyphs">0</text>
<text x="15.80" y="908.50" font-size="12" textLength="102.70" lengthAdjust="spacingAndGlyphs">Control groups, &#160;MRD pos</text>
<text x="126.42" y="907.60" font-size="12.4" textLength="17.55" lengthAdjust="spacingAndGlyphs">666</text>
<text x="162.17" y="907.60" font-size="12.4" textLength="17.55" lengthAdjust="spacingAndGlyphs">526</text>
<text x="197.92" y="907.60" font-size="12.4" textLength="17.55" lengthAdjust="spacingAndGlyphs">441</text>
<text x="233.67" y="907.60" font-size="12.4" textLength="17.55" lengthAdjust="spacingAndGlyphs">332</text>
<text x="269.43" y="907.60" font-size="12.4" textLength="17.55" lengthAdjust="spacingAndGlyphs">250</text>
<text x="305.18" y="907.60" font-size="12.4" textLength="17.55" lengthAdjust="spacingAndGlyphs">193</text>
<text x="343.90" y="907.60" font-size="12.4" textLength="11.60" lengthAdjust="spacingAndGlyphs">89</text>
<text x="379.65" y="907.60" font-size="12.4" textLength="11.60" lengthAdjust="spacingAndGlyphs">22</text>
<text x="418.38" y="907.60" font-size="12.4" textLength="5.65" lengthAdjust="spacingAndGlyphs">1</text>
<text x="454.12" y="907.60" font-size="12.4" textLength="5.65" lengthAdjust="spacingAndGlyphs">0</text>
<text x="137.10" y="959.50" font-size="13.2" font-weight="bold" textLength="40.70" lengthAdjust="spacingAndGlyphs">Groups</text>
<text x="310.70" y="959.00" font-size="13.2" font-weight="bold" textLength="67.49" lengthAdjust="spacingAndGlyphs">HR (95% CI)</text>
<text x="433.10" y="958.70" font-size="13.2" font-weight="bold" font-style="italic" textLength="7.78" lengthAdjust="spacingAndGlyphs">P</text>
<g fill="none" stroke="#000">
<path d="M133.8,967.9 H456.7" stroke-width="2"/>
<path d="M133.8,1021.6 H456.7" stroke-width="1.9"/>
<path d="M133.8,1075.3 H456.7" stroke-width="1.9"/>
</g>
<text x="137.70" y="985.50" font-size="12.4" textLength="93.90" lengthAdjust="spacingAndGlyphs">Dara groups, MRD neg</text>
<text x="137.40" y="998.30" font-size="12.4" textLength="7.70" lengthAdjust="spacingAndGlyphs">vs</text>
<text x="137.70" y="1011.70" font-size="12.4" textLength="105.00" lengthAdjust="spacingAndGlyphs">Control groups, MRD neg</text>
<text x="309.70" y="998.80" font-size="13.2" textLength="70.30" lengthAdjust="spacingAndGlyphs">0.51 (0.28-0.92)</text>
<text x="424.10" y="998.80" font-size="13.2" textLength="24.60" lengthAdjust="spacingAndGlyphs">.0253</text>
<text x="137.70" y="1039.20" font-size="12.4" textLength="93.90" lengthAdjust="spacingAndGlyphs">Dara groups, MRD neg</text>
<text x="137.40" y="1051.90" font-size="12.4" textLength="7.70" lengthAdjust="spacingAndGlyphs">vs</text>
<text x="137.70" y="1065.80" font-size="12.4" textLength="93.00" lengthAdjust="spacingAndGlyphs">Dara groups, MRD pos</text>
<text x="309.70" y="1053.00" font-size="13.2" textLength="69.90" lengthAdjust="spacingAndGlyphs">0.21 (0.14-0.30)</text>
<text x="420.50" y="1053.00" font-size="13.2" textLength="31.40" lengthAdjust="spacingAndGlyphs">&lt;.0001</text>
<text x="137.70" y="1092.70" font-size="12.4" textLength="93.90" lengthAdjust="spacingAndGlyphs">Dara groups, MRD neg</text>
<text x="137.40" y="1105.40" font-size="12.4" textLength="7.70" lengthAdjust="spacingAndGlyphs">vs</text>
<text x="137.70" y="1118.80" font-size="12.4" textLength="103.80" lengthAdjust="spacingAndGlyphs">Control groups, MRD pos</text>
<text x="309.70" y="1106.30" font-size="13.2" textLength="69.90" lengthAdjust="spacingAndGlyphs">0.12 (0.09-0.18)</text>
<text x="420.50" y="1106.30" font-size="13.2" textLength="31.10" lengthAdjust="spacingAndGlyphs">&lt;.0001</text>
<rect x="1" y="1" width="518" height="1132" fill="none" stroke="#000" stroke-width="2"/>
</svg>
</body></html>
